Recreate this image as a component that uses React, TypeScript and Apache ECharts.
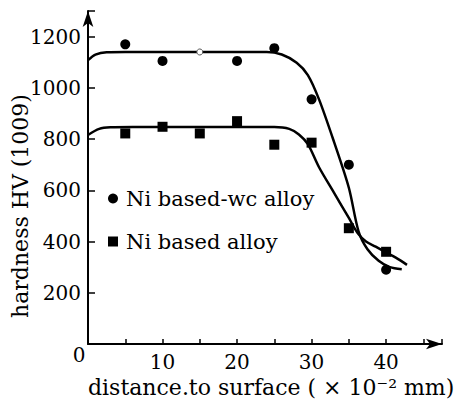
import React, { useEffect, useRef } from "react";
import * as echarts from "echarts";

// Measured points (x: distance to surface ×10^-2 mm, y: hardness HV)
const pointDistances = [5, 10, 15, 20, 25, 30, 35, 40];
const wcHardness = [1170, 1105, 1140, 1105, 1155, 955, 700, 290];
const wcHollowIndex = 2; // faint open point at x = 15
const alloyHardness = [822, 848, 822, 870, 778, 786, 452, 360];

// Fitted curves
const wcCurveX = [0, 1, 2.5, 5, 24, 26, 28, 29.5, 31, 33, 35, 36.3, 37.5, 39, 40.5, 42.1];
const wcCurveY = [1108, 1130, 1139, 1140, 1140, 1130, 1098, 1050, 955, 790, 610, 440, 370, 325, 300, 292];
const alloyCurveX = [0, 1.5, 3, 6, 25, 27, 28.3, 29.5, 31, 33, 35, 36.2, 37.3, 38.6, 39.8, 41.3, 42.8];
const alloyCurveY = [816, 840, 846, 847, 847, 840, 818, 780, 690, 591, 492, 432, 400, 380, 361, 337, 309];

const xTickLabels = ["10", "20", "30", "40"];
const yTickLabels = ["200", "400", "600", "800", "1000", "1200"];

const FONT = '"DejaVu Serif", "Liberation Serif", serif';

export default function App() {
  const ref = useRef<HTMLDivElement>(null);
  useEffect(() => {
    document.body.style.margin = "0";
    const chart = echarts.init(ref.current!, null, { renderer: "svg" });
    const black = "#000";
    chart.setOption({
      animation: false,
      backgroundColor: "#fff",
      grid: { left: 88, right: 14, top: 11, bottom: 58 },
      xAxis: {
        type: "value",
        min: 0,
        max: 47.5,
        interval: 5,
        splitLine: { show: false },
        axisLine: { lineStyle: { color: black, width: 2 }, symbol: ["none", "arrow"], symbolSize: [8, 16] },
        axisTick: { inside: true, length: 5, lineStyle: { color: black, width: 1.5 } },
        axisLabel: {
          color: black,
          fontFamily: FONT,
          fontSize: 20,
          margin: 8,
          formatter: (v: number) => (xTickLabels.includes(String(v)) ? String(v) : ""),
        },
      },
      yAxis: {
        type: "value",
        min: 0,
        max: 1300,
        interval: 200,
        splitLine: { show: false },
        axisLine: { lineStyle: { color: black, width: 2 }, symbol: ["none", "arrow"], symbolSize: [8, 16] },
        axisTick: { inside: true, length: 7, lineStyle: { color: black, width: 1.5 } },
        axisLabel: {
          color: black,
          fontFamily: FONT,
          fontSize: 20,
          margin: 7,
          formatter: (v: number) => (yTickLabels.includes(String(v)) ? String(v) : ""),
        },
      },
      legend: {
        data: [
          { name: "Ni based-wc alloy", icon: "circle" },
          { name: "Ni based alloy", icon: "rect" },
        ],
        orient: "vertical",
        left: 103,
        top: 183,
        itemWidth: 10,
        itemHeight: 10,
        itemGap: 22,
        selectedMode: false,
        itemStyle: { color: black, opacity: 1 },
        textStyle: { color: black, fontFamily: FONT, fontSize: 21, padding: [0, 0, 0, 3] },
      },
      graphic: [
        {
          type: "text",
          x: 79,
          y: 355,
          style: { text: "0", font: `20px ${FONT}`, fill: black, textAlign: "center", textVerticalAlign: "middle" },
        },
        {
          type: "text",
          x: 20,
          y: 206,
          rotation: Math.PI / 2,
          style: {
            text: "hardness HV (1009)",
            font: `22px ${FONT}`,
            fill: black,
            textAlign: "center",
            textVerticalAlign: "middle",
          },
        },
        {
          type: "text",
          x: 88,
          y: 387,
          style: {
            text: "distance.to surface ( × 10⁻² mm)",
            font: `22px ${FONT}`,
            fill: black,
            textAlign: "left",
            textVerticalAlign: "middle",
          },
        },
      ],
      series: [
        {
          type: "line",
          data: wcCurveX.map((x, i) => [x, wcCurveY[i]]),
          showSymbol: false,
          smooth: 0.3,
          lineStyle: { color: black, width: 2.5 },
          silent: true,
        },
        {
          type: "line",
          data: alloyCurveX.map((x, i) => [x, alloyCurveY[i]]),
          showSymbol: false,
          smooth: 0.3,
          lineStyle: { color: black, width: 2.5 },
          silent: true,
        },
        {
          name: "Ni based-wc alloy",
          type: "scatter",
          symbol: "circle",
          symbolSize: 10,
          itemStyle: { color: black, opacity: 1 },
          data: pointDistances.map((x, i) =>
            i === wcHollowIndex
              ? { value: [x, wcHardness[i]], symbolSize: 6, itemStyle: { color: "#fff", borderColor: "#555", borderWidth: 1, opacity: 1 } }
              : [x, wcHardness[i]]
          ),
          z: 3,
        },
        {
          name: "Ni based alloy",
          type: "scatter",
          symbol: "rect",
          symbolSize: 10,
          itemStyle: { color: black, opacity: 1 },
          data: pointDistances.map((x, i) => [x, alloyHardness[i]]),
          z: 3,
        },
      ],
    });
    return () => chart.dispose();
  }, []);
  return <div ref={ref} style={{ position: "fixed", left: 0, top: 0, width: 456, height: 402 }} />;
}
